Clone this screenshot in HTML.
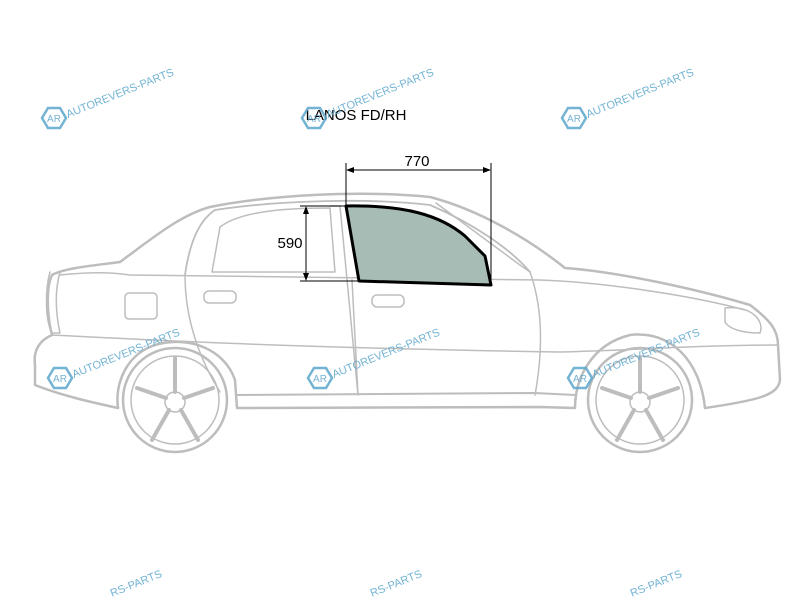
<!DOCTYPE html>
<html><head><style>html,body{margin:0;background:#fff;width:800px;height:600px;overflow:hidden}svg{display:block}</style></head><body>
<svg width="800" height="600" viewBox="0 0 800 600" xmlns="http://www.w3.org/2000/svg" font-family="Liberation Sans, sans-serif" overflow="hidden">
<g fill="none" stroke="#bdbdbd" stroke-width="2.5" stroke-linejoin="round" stroke-linecap="round">
<path d="M120,262 C150,240 180,215 210,207 C270,195 360,190 430,197 C480,210 530,240 565,268 C620,272 700,290 750,305 C770,320 778,330 778,345 L780,380 C778,395 760,400 705,408"/>
<path d="M120,262 C90,266 65,268 52,275 C45,290 48,320 52,335 C40,340 33,350 35,365 L35,385 C60,395 90,402 118,408"/>
<path d="M118,408 C115,385 125,355 155,345 C190,335 225,350 235,380 L237,408 L540,407 L575,408 C575,380 590,345 630,335 C670,330 700,360 705,408"/>
<path d="M237,395 L535,393 L575,395" stroke-width="2"/>
<path d="M52,335 C150,340 300,348 560,352 C640,350 700,345 778,345" stroke-width="1.5"/>
<path d="M60,275 C90,272 110,272 130,275 L540,280 C600,282 690,295 745,310" stroke-width="1.5"/>
<path d="M185,275 C190,240 200,220 215,210 C280,200 370,198 430,205 C470,222 510,248 530,272" stroke-width="1.8"/>
<path d="M212,272 L220,227 C240,212 280,208 330,208 L335,272 Z" stroke-width="1.5"/>
<path d="M330,206 L340,206 L358,395 M352,280 L358,395" stroke-width="1.5"/>
<path d="M436,203 L520,265 L530,272" stroke-width="1.5"/>
<path d="M185,275 C185,320 200,360 220,392 M530,272 C540,300 545,340 535,395" stroke-width="1.5"/>
<rect x="204" y="291" width="32" height="12" rx="5" stroke-width="1.5"/>
<rect x="372" y="295" width="32" height="12" rx="5" stroke-width="1.5"/>
<rect x="125" y="293" width="32" height="26" rx="4" stroke-width="1.5"/>
<path d="M725,308 C750,305 765,320 760,333 C745,333 730,330 725,322 Z" stroke-width="1.5"/>
<path d="M50,272 C45,290 45,320 52,333 L60,333 C55,310 55,290 60,272" stroke-width="1.5"/>
<circle cx="175" cy="400" r="52"/><circle cx="175" cy="400" r="44" stroke-width="1.5"/>
<circle cx="640" cy="400" r="52"/><circle cx="640" cy="400" r="44" stroke-width="1.5"/>
<circle cx="175" cy="402" r="10" stroke-width="1.5"/><circle cx="640" cy="402" r="10" stroke-width="1.5"/>
<path d="M175,358 L175,392 M137,388 L166,398 M152,440 L169,410 M198,440 L181,410 M213,388 L184,398" stroke-width="4"/>
<path d="M640,358 L640,392 M602,388 L631,398 M617,440 L634,410 M663,440 L646,410 M678,388 L649,398" stroke-width="4"/>
</g>
<path d="M346,206 C405,205 440,215 465,236 L485,256 L491,285 L359,281 Z" fill="#a7bcb4" stroke="#000" stroke-width="3" stroke-linejoin="round"/>
<g stroke="#000" stroke-width="1" fill="#000">
<line x1="346" y1="163" x2="346" y2="206"/><line x1="491" y1="163" x2="491" y2="285"/>
<line x1="349" y1="170" x2="488" y2="170"/>
<path d="M346,170 l8,-3 v6 z M491,170 l-8,-3 v6 z" stroke="none"/>
<line x1="300" y1="206" x2="346" y2="206"/><line x1="300" y1="281" x2="359" y2="281"/>
<line x1="306" y1="209" x2="306" y2="278"/>
<path d="M306,206 l-3,8 h6 z M306,281 l-3,-8 h6 z" stroke="none"/>
</g>
<text x="417" y="166" font-size="15" text-anchor="middle">770</text>
<text x="290" y="248" font-size="15" text-anchor="middle">590</text>
<text x="356" y="120" font-size="15" text-anchor="middle">LANOS FD/RH</text>
<defs><g id="wm">
<polygon points="-12,0 -6,-10 6,-10 12,0 6,10 -6,10" fill="none" stroke="#5aa6cc" stroke-width="2.5"/>
<text x="0" y="4" font-size="10" text-anchor="middle" fill="#5aa6cc">AR</text>
<text x="14" y="0" font-size="11" fill="#5aa6cc" transform="rotate(-22 14 0)">AUTOREVERS-PARTS</text>
</g></defs>
<g opacity="0.85">
<use href="#wm" x="54" y="118"/><use href="#wm" x="314" y="118"/><use href="#wm" x="574" y="118"/>
<use href="#wm" x="60" y="378"/><use href="#wm" x="320" y="378"/><use href="#wm" x="580" y="378"/>
<text x="112" y="597" font-size="11" fill="#5aa6cc" transform="rotate(-22 112 597)">RS-PARTS</text>
<text x="372" y="597" font-size="11" fill="#5aa6cc" transform="rotate(-22 372 597)">RS-PARTS</text>
<text x="632" y="597" font-size="11" fill="#5aa6cc" transform="rotate(-22 632 597)">RS-PARTS</text>
</g>
</svg>
</body></html>
